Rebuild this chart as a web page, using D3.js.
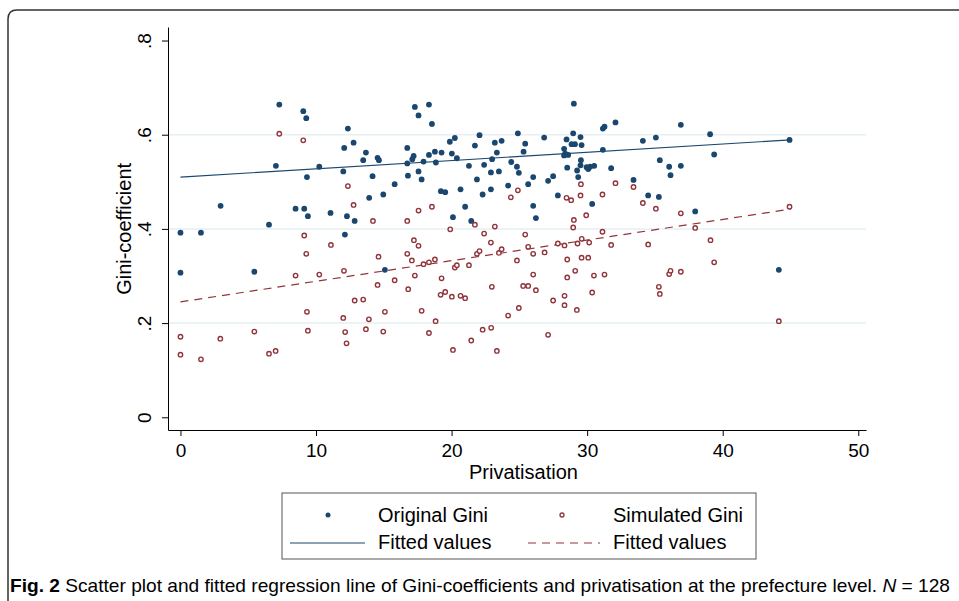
<!DOCTYPE html>
<html>
<head>
<meta charset="utf-8">
<script src="https://cdn.jsdelivr.net/npm/d3@7"></script>
<style>
  body { margin: 0; background: #fff; }
  svg { display: block; font-family: "Liberation Sans", Arial, sans-serif; }
</style>
</head>
<body>
<div id="chart"></div>
<script>
// data: [privatisation, gini]
var originalGini = [
  [0,0.392],[0,0.307],[1.51,0.392],[2.96,0.449],[5.45,0.309],[6.53,0.409],[7.04,0.534],[7.29,0.664],
  [8.49,0.443],[9.06,0.650],[9.13,0.443],[9.28,0.635],[9.33,0.510],[9.40,0.427],[10.24,0.532],[11.07,0.434],
  [12.01,0.522],[12.08,0.572],[12.13,0.388],[12.28,0.427],[12.35,0.613],[12.77,0.583],[12.85,0.417],[13.48,0.546],
  [13.68,0.562],[13.92,0.466],[14.17,0.512],[14.54,0.551],[14.64,0.546],[14.96,0.473],[15.08,0.313],[15.8,0.495],
  [16.73,0.572],[16.73,0.539],[16.78,0.513],[17.1,0.548],[17.2,0.555],[17.29,0.659],[17.56,0.641],[17.56,0.522],
  [17.79,0.505],[17.93,0.543],[18.33,0.664],[18.33,0.557],[18.55,0.623],[18.77,0.564],[18.84,0.541],[19.21,0.480],
  [19.26,0.562],[19.53,0.478],[19.87,0.585],[20.02,0.560],[20.1,0.425],[20.24,0.593],[20.39,0.550],[20.66,0.484],
  [21.0,0.447],[21.28,0.534],[21.45,0.417],[21.72,0.577],[21.87,0.505],[22.06,0.599],[22.29,0.473],[22.4,0.536],
  [22.9,0.520],[22.9,0.484],[22.99,0.548],[23.19,0.583],[23.34,0.562],[23.49,0.522],[23.69,0.587],[24.17,0.492],
  [24.4,0.542],[24.82,0.532],[24.89,0.603],[24.96,0.519],[25.31,0.564],[25.43,0.581],[25.65,0.495],[26.02,0.510],
  [26.02,0.449],[26.22,0.423],[26.83,0.594],[27.12,0.502],[27.49,0.512],[27.84,0.471],[28.3,0.570],[28.3,0.556],
  [28.38,0.560],[28.48,0.590],[28.53,0.530],[28.6,0.557],[28.85,0.580],[28.97,0.603],[29.02,0.666],[29.1,0.580],
  [29.26,0.524],[29.34,0.510],[29.51,0.595],[29.51,0.535],[29.54,0.546],[29.59,0.578],[29.96,0.531],[30.08,0.527],
  [30.22,0.532],[30.37,0.453],[30.52,0.534],[31.16,0.613],[31.16,0.568],[31.28,0.617],[31.77,0.529],[32.09,0.626],
  [33.42,0.504],[34.11,0.587],[34.5,0.471],[35.07,0.594],[35.29,0.468],[35.36,0.546],[36.05,0.532],[36.15,0.514],
  [36.91,0.621],[36.91,0.534],[37.97,0.437],[39.07,0.601],[39.37,0.558],[44.14,0.313],[44.93,0.589]
];

var simulatedGini = [
  [0,0.171],[0,0.133],[1.51,0.123],[2.94,0.167],[5.45,0.182],[6.53,0.135],[7.02,0.141],[7.29,0.602],
  [8.49,0.301],[9.06,0.588],[9.13,0.386],[9.28,0.347],[9.33,0.224],[9.40,0.184],[10.24,0.303],[11.1,0.366],
  [12.01,0.211],[12.06,0.311],[12.15,0.181],[12.25,0.157],[12.35,0.491],[12.77,0.451],[12.85,0.248],[13.48,0.250],
  [13.68,0.187],[13.9,0.208],[14.2,0.417],[14.54,0.281],[14.61,0.341],[14.96,0.182],[15.08,0.224],[15.8,0.291],
  [16.73,0.417],[16.73,0.347],[16.8,0.272],[17.07,0.333],[17.22,0.376],[17.29,0.301],[17.56,0.439],[17.56,0.364],
  [17.79,0.226],[17.93,0.325],[18.33,0.329],[18.33,0.179],[18.55,0.447],[18.77,0.335],[18.82,0.204],[19.19,0.260],
  [19.26,0.295],[19.53,0.266],[19.9,0.399],[20.02,0.256],[20.1,0.143],[20.24,0.318],[20.39,0.323],[20.66,0.258],
  [21.0,0.253],[21.28,0.323],[21.45,0.163],[21.72,0.409],[21.87,0.347],[22.06,0.353],[22.29,0.186],[22.4,0.390],
  [22.9,0.371],[22.92,0.190],[22.97,0.277],[23.19,0.405],[23.34,0.141],[23.49,0.349],[23.69,0.357],[24.17,0.216],
  [24.37,0.467],[24.82,0.333],[24.89,0.482],[24.96,0.232],[25.28,0.279],[25.43,0.388],[25.65,0.362],[25.65,0.279],
  [26.02,0.347],[26.02,0.303],[26.22,0.270],[26.86,0.350],[27.12,0.175],[27.49,0.248],[27.84,0.369],[28.33,0.365],
  [28.33,0.258],[28.33,0.238],[28.48,0.466],[28.53,0.335],[28.53,0.297],[28.82,0.461],[28.97,0.403],[29.02,0.419],
  [29.12,0.311],[29.24,0.228],[29.29,0.369],[29.51,0.471],[29.54,0.495],[29.59,0.339],[29.6,0.379],[29.93,0.429],
  [30.08,0.339],[30.15,0.371],[30.37,0.265],[30.5,0.301],[31.13,0.473],[31.13,0.394],[31.28,0.303],[31.77,0.366],
  [32.09,0.497],[33.42,0.489],[34.11,0.455],[34.5,0.367],[35.07,0.443],[35.29,0.277],[35.36,0.262],[36.05,0.304],
  [36.15,0.311],[36.91,0.433],[36.91,0.309],[37.97,0.402],[39.1,0.376],[39.37,0.329],[44.14,0.204],[44.93,0.447]
];

// fitted regression lines (end points)
var fitX = [0, 45];
var fitOriginal = [0.510, 0.589];
var fitSimulated = [0.245, 0.442];

var xTicks = [0, 10, 20, 30, 40, 50];
var yTicks = [0, 0.2, 0.4, 0.6, 0.8];
var yTickLabels = ["0", ".2", ".4", ".6", ".8"];

var blue = "#1a476f", red = "#90353b";

var svg = d3.select("#chart")
  .append("svg")
  .attr("width", 959)
  .attr("height", 601);

// outer figure frame (rounded top-left corner)
svg.append("path")
  .attr("d", "M8,605 L8,19 Q8,10 17,10 L965,10")
  .attr("fill", "none")
  .attr("stroke", "#333")
  .attr("stroke-width", 1.5);

var x = d3.scaleLinear().domain([-0.92, 50.57]).range([168, 866]);
var y = d3.scaleLinear().domain([-0.027, 0.8287]).range([430, 27]);

// gridlines
svg.append("g")
  .selectAll("line")
  .data([0.2, 0.4, 0.6])
  .enter()
  .append("line")
  .attr("x1", 168).attr("x2", 866)
  .attr("y1", function (d) { return y(d); })
  .attr("y2", function (d) { return y(d); })
  .attr("stroke", "#e6eff1")
  .attr("stroke-width", 1.5);

// X axis
var xAxis = svg.append("g")
  .attr("transform", "translate(0,430)")
  .call(d3.axisBottom(x).tickValues(xTicks).tickSize(6).tickSizeOuter(0).tickPadding(8).tickFormat(d3.format("d")));
xAxis.selectAll("text").style("font-size", "19px").attr("fill", "#000");
xAxis.selectAll("line, path").attr("stroke", "#000");

// Y axis, labels turned like Stata does
var yAxis = svg.append("g")
  .attr("transform", "translate(168,0)")
  .call(d3.axisLeft(y).tickValues(yTicks).tickSize(6).tickSizeOuter(0)
    .tickFormat(function (d, i) { return yTickLabels[i]; }));
yAxis.selectAll("line, path").attr("stroke", "#000");
yAxis.selectAll("text")
  .attr("transform", "rotate(-90)")
  .attr("x", 0)
  .attr("y", -17)
  .attr("dy", 0)
  .style("text-anchor", "middle")
  .style("font-size", "19px")
  .attr("fill", "#000");

// axis titles
svg.append("text")
  .attr("x", x(25.3)).attr("y", 479)
  .attr("text-anchor", "middle")
  .style("font-size", "20px")
  .text("Privatisation");

svg.append("text")
  .attr("transform", "translate(131," + y(0.4) + ") rotate(-90)")
  .attr("text-anchor", "middle")
  .style("font-size", "20px")
  .text("Gini-coefficient");

// fitted lines
var fitLine = d3.line()
  .x(function (d) { return x(d[0]); })
  .y(function (d) { return y(d[1]); });

svg.append("path")
  .datum(fitX.map(function (v, i) { return [v, fitOriginal[i]]; }))
  .attr("d", fitLine)
  .attr("fill", "none")
  .attr("stroke", blue)
  .attr("stroke-width", 1.2);

svg.append("path")
  .datum(fitX.map(function (v, i) { return [v, fitSimulated[i]]; }))
  .attr("d", fitLine)
  .attr("fill", "none")
  .attr("stroke", red)
  .attr("stroke-width", 1.2)
  .attr("stroke-dasharray", "8,6");

// scatter: original (filled) and simulated (hollow)
svg.append("g")
  .selectAll("circle")
  .data(originalGini)
  .enter()
  .append("circle")
  .attr("cx", function (d) { return x(d[0]); })
  .attr("cy", function (d) { return y(d[1]); })
  .attr("r", 2.9)
  .attr("fill", blue);

svg.append("g")
  .selectAll("circle")
  .data(simulatedGini)
  .enter()
  .append("circle")
  .attr("cx", function (d) { return x(d[0]); })
  .attr("cy", function (d) { return y(d[1]); })
  .attr("r", 2.2)
  .attr("fill", "#fff")
  .attr("stroke", red)
  .attr("stroke-width", 1.4);

// legend
var legend = svg.append("g");
legend.append("rect")
  .attr("x", 282).attr("y", 493)
  .attr("width", 474).attr("height", 66)
  .attr("fill", "#fff")
  .attr("stroke", "#555")
  .attr("stroke-width", 1);

legend.append("circle").attr("cx", 328).attr("cy", 515).attr("r", 2.5).attr("fill", blue);
legend.append("circle").attr("cx", 562).attr("cy", 515).attr("r", 2).attr("fill", "#fff")
  .attr("stroke", red).attr("stroke-width", 1.3);
legend.append("line").attr("x1", 290).attr("x2", 365).attr("y1", 543).attr("y2", 543)
  .attr("stroke", blue).attr("stroke-width", 1.2);
legend.append("line").attr("x1", 528).attr("x2", 600).attr("y1", 543).attr("y2", 543)
  .attr("stroke", red).attr("stroke-width", 1.2).attr("stroke-dasharray", "8,6");

var legendText = [
  { t: "Original Gini", x: 378, y: 522 },
  { t: "Simulated Gini", x: 613, y: 522 },
  { t: "Fitted values", x: 378, y: 549 },
  { t: "Fitted values", x: 613, y: 549 }
];
legend.selectAll("text.lt")
  .data(legendText)
  .enter()
  .append("text")
  .attr("class", "lt")
  .attr("x", function (d) { return d.x; })
  .attr("y", function (d) { return d.y; })
  .style("font-size", "20px")
  .text(function (d) { return d.t; });

// caption
var caption = svg.append("text")
  .attr("x", 10).attr("y", 592)
  .attr("textLength", 940)
  .attr("lengthAdjust", "spacingAndGlyphs")
  .style("font-family", "'Liberation Sans Narrow', 'Liberation Sans', sans-serif")
  .style("font-size", "19px");
caption.append("tspan").style("font-weight", "bold").text("Fig. 2");
caption.append("tspan").text(" Scatter plot and fitted regression line of Gini-coefficients and privatisation at the prefecture level. ");
caption.append("tspan").style("font-style", "italic").text("N");
caption.append("tspan").text(" = 128");
</script>
</body>
</html>
